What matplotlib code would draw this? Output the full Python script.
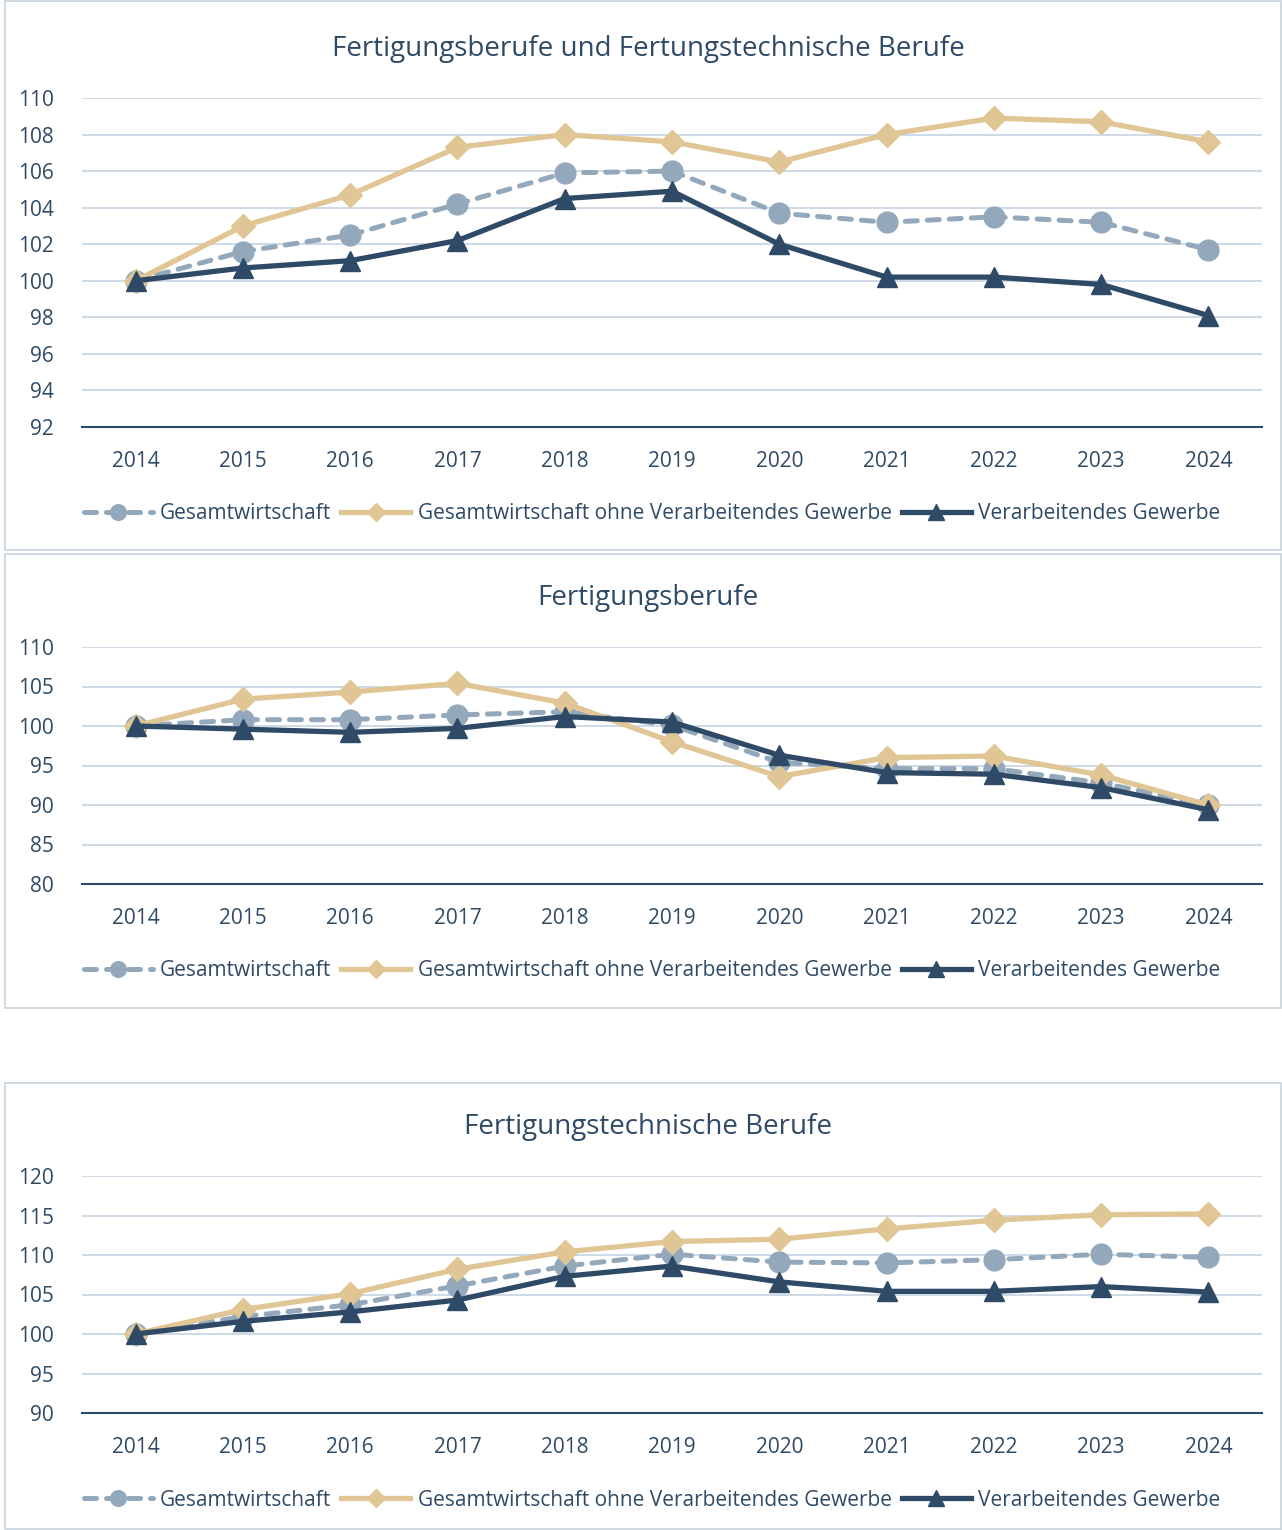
import matplotlib.pyplot as plt
from matplotlib.patches import Rectangle

plt.rcParams['font.family'] = ['Open Sans', 'DejaVu Sans']

years = ['2014', '2015', '2016', '2017', '2018', '2019', '2020', '2021', '2022', '2023', '2024']
labels = ['Gesamtwirtschaft', 'Gesamtwirtschaft ohne Verarbeitendes Gewerbe', 'Verarbeitendes Gewerbe']

# Fertigungsberufe und Fertigungstechnische Berufe
p1_gesamt = [100, 101.6, 102.5, 104.2, 105.9, 106.0, 103.7, 103.2, 103.5, 103.2, 101.7]
p1_ohne = [100, 103.0, 104.7, 107.3, 108.0, 107.6, 106.5, 108.0, 108.9, 108.7, 107.6]
p1_vg = [100, 100.7, 101.1, 102.2, 104.5, 104.9, 102.0, 100.2, 100.2, 99.8, 98.1]

# Fertigungsberufe
p2_gesamt = [100, 100.8, 100.8, 101.4, 101.8, 100.1, 95.4, 94.6, 94.6, 92.8, 90.0]
p2_ohne = [100, 103.4, 104.3, 105.4, 102.9, 98.0, 93.6, 96.0, 96.2, 93.8, 90.0]
p2_vg = [100, 99.6, 99.2, 99.7, 101.2, 100.5, 96.3, 94.1, 93.9, 92.2, 89.4]

# Fertigungstechnische Berufe
p3_gesamt = [100, 102.2, 103.7, 106.1, 108.6, 110.1, 109.1, 109.0, 109.4, 110.1, 109.7]
p3_ohne = [100, 103.1, 105.1, 108.2, 110.4, 111.7, 112.0, 113.3, 114.4, 115.1, 115.2]
p3_vg = [100, 101.6, 102.8, 104.3, 107.3, 108.6, 106.6, 105.4, 105.4, 106.0, 105.3]

titles = ['Fertigungsberufe und Fertungstechnische Berufe', 'Fertigungsberufe', 'Fertigungstechnische Berufe']

c_gesamt = '#94a8bc'
c_ohne = '#e0c595'
c_vg = '#2e4a66'
c_text = '#2e4a66'
c_grid = '#c5d3e0'

W, H = 1282, 1530
fig = plt.figure(figsize=(W / 100, H / 100), dpi=100)

# panel frames (pixel coords: x0, y0 top, x1, y1 bottom)
frames = [(5, 1, 1281, 550), (5, 554, 1281, 1008), (5, 1083, 1281, 1529)]
for x0, y0, x1, y1 in frames:
    fig.patches.append(Rectangle((x0 / W, 1 - y1 / H), (x1 - x0) / W, (y1 - y0) / H,
                                 transform=fig.transFigure, fill=False,
                                 edgecolor='#c8d3de', linewidth=1.2))

# axes geometry in pixels: top, bottom
axes_px = [(98, 427), (647, 884), (1176, 1413)]
ylims = [(92, 110, 2), (80, 110, 5), (90, 120, 5)]
title_y = [49, 598, 1127]
legend_y = [514, 971, 1500]
data = [(p1_gesamt, p1_ohne, p1_vg), (p2_gesamt, p2_ohne, p2_vg), (p3_gesamt, p3_ohne, p3_vg)]

x = list(range(len(years)))
for i in range(3):
    top, bot = axes_px[i]
    ax = fig.add_axes([82 / W, 1 - bot / H, 1180 / W, (bot - top) / H])
    g, o, v = data[i]
    ax.plot(x, g, color=c_gesamt, lw=3.6, dashes=(2.4, 2.0), dash_capstyle='round',
            marker='o', markersize=15, label=labels[0], zorder=3)
    ax.plot(x, o, color=c_ohne, lw=3.8, marker='D', markersize=12, label=labels[1], zorder=4)
    ax.plot(x, v, color=c_vg, lw=3.8, marker='^', markersize=15, label=labels[2], zorder=5)

    lo, hi, step = ylims[i]
    ax.set_ylim(lo, hi)
    ax.set_yticks(range(lo, hi + 1, step))
    ax.set_xlim(-0.5, 10.5)
    ax.set_xticks(x)
    ax.set_xticklabels(years)
    ax.grid(axis='y', color=c_grid, lw=1.2)
    ax.set_axisbelow(True)
    for s in ['top', 'right', 'left']:
        ax.spines[s].set_visible(False)
    ax.spines['bottom'].set_color(c_vg)
    ax.spines['bottom'].set_linewidth(1.5)
    ax.spines['bottom'].set_zorder(1)
    ax.tick_params(axis='both', length=0, labelsize=15, colors=c_text)
    ax.tick_params(axis='x', pad=17)
    ax.tick_params(axis='y', pad=20)

    fig.text(648 / W, 1 - title_y[i] / H, titles[i], ha='center', va='center',
             fontsize=20, color=c_text)
    fig.legend(handles=ax.get_lines(), labels=labels, loc='center',
               bbox_to_anchor=(652 / W, 1 - legend_y[i] / H), ncol=3, frameon=False,
               fontsize=15, labelcolor=c_text, handlelength=3.3, handletextpad=0.35,
               columnspacing=0.5, markerscale=0.75)

fig.savefig('out.png', dpi=100)
